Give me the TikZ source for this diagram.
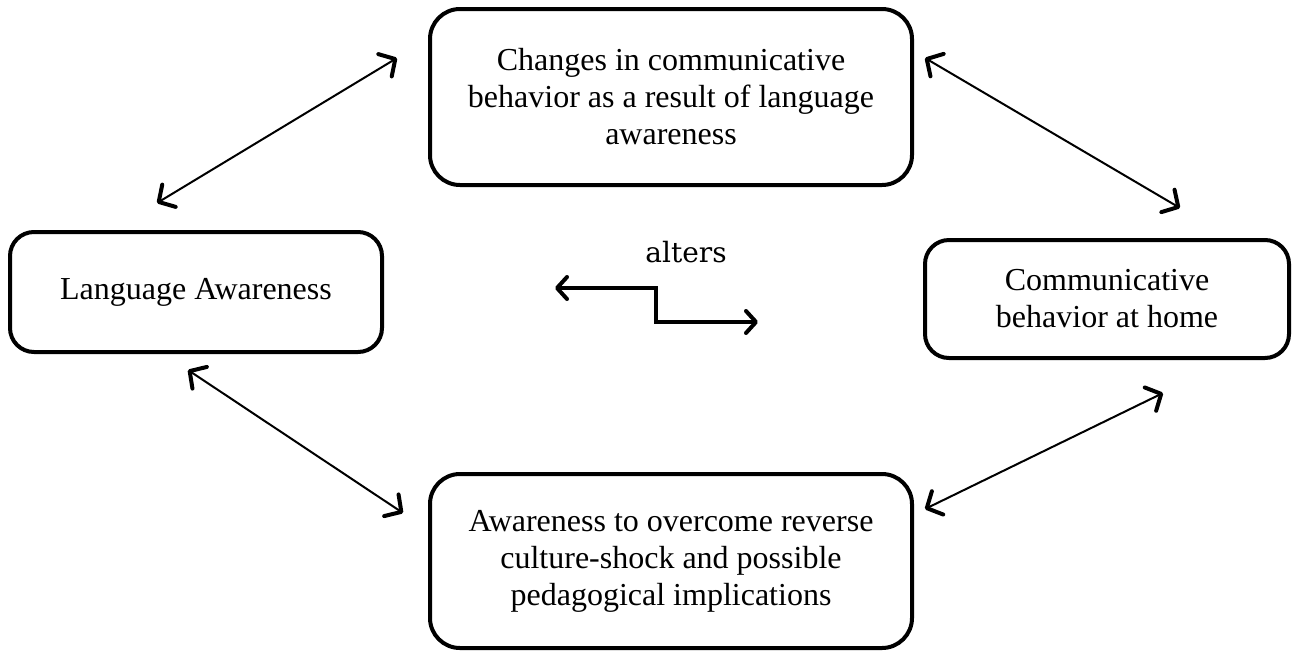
\documentclass[tikz,border=0pt]{standalone}
\usepackage{fontspec}
\setmainfont{Liberation Serif}
\newfontfamily\verbfont{DejaVu Serif}
\usetikzlibrary{arrows.meta}

\begin{document}
\begin{tikzpicture}[
    x=0.5pt, y=-0.5pt,
    topic/.style={rectangle, draw, line width=2pt, rounded corners=15pt, align=center, font=\fontsize{16}{18.5}\selectfont},
    barbtip/.tip={Straight Barb[length=6pt, width=13pt, line width=2pt, round]},
    smallbarb/.tip={Straight Barb[length=5pt, width=11pt, line width=2pt, round]},
    link/.style={barbtip-barbtip, line width=1pt},
    swap/.style={smallbarb-smallbarb, line width=2pt}
]
\useasboundingbox (0,0) rectangle (1301,654);

\node[topic, minimum width=241pt, minimum height=88pt] (chg) at (671,97) {Changes in communicative\\behavior as a result of language\\awareness};
\node[topic, minimum width=186pt, minimum height=60pt, rounded corners=12pt] (lang) at (196,292) {Language Awareness};
\node[topic, minimum width=182pt, minimum height=59pt, rounded corners=12pt] (comm) at (1107,299) {Communicative\\behavior at home};
\node[topic, minimum width=241pt, minimum height=87pt] (aware) at (671,561) {Awareness to overcome reverse\\culture-shock and possible\\pedagogical implications};

\node[font=\verbfont\fontsize{14}{16}\selectfont] (alt) at (686,252) {alters};

% arrow ends
\coordinate (tl1) at (157,203);
\coordinate (tl2) at (397,58);
\coordinate (tr1) at (925,58);
\coordinate (tr2) at (1180,208);
\coordinate (bl1) at (188,370);
\coordinate (bl2) at (403,513);
\coordinate (br1) at (925,509);
\coordinate (br2) at (1163,393);
\coordinate (m1) at (555,288);
\coordinate (m2) at (758,322);

\draw[link] (tl1) -- (tl2);
\draw[link] (tr1) -- (tr2);
\draw[link] (bl1) -- (bl2);
\draw[link] (br1) -- (br2);

\draw[swap] (m1) -- ++(101,0) |- (m2);

\end{tikzpicture}
\end{document}
